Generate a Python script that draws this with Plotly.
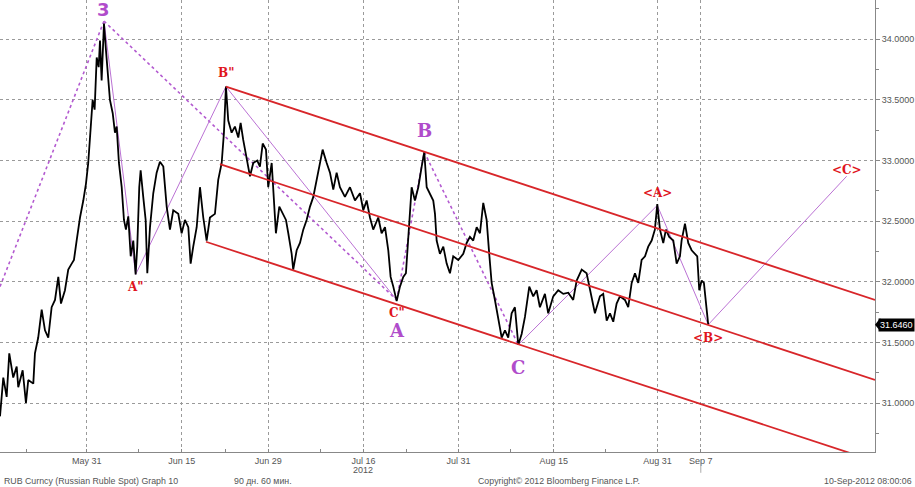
import plotly.graph_objects as go

# ---------------- data ----------------
# x = trading days from May 31 2012 (weekends removed), y = USD/RUB
path_day = [-10.02, -9.64, -9.25, -8.95, -8.49, -8.09, -7.91, -7.40, -7.02, -6.75, -6.17, -5.98, -5.60, -5.20,
            -4.82, -4.44, -4.05, -3.66, -3.28, -2.97, -2.51, -2.13, -1.73, -1.47, -1.16, -0.77, -0.39, -0.08,
            0.18, 0.46, 0.69, 0.92, 1.16, 1.39, 1.54, 1.73, 2.00, 2.23, 2.38, 2.69, 3.01, 3.27, 3.47, 3.73,
            4.05, 4.31, 4.54, 4.81, 5.09, 5.39, 5.66, 5.85, 6.08, 6.24, 6.54, 6.82, 7.01, 7.32, 7.70, 8.09,
            8.47, 8.86, 9.25, 9.63, 10.01, 10.59, 10.98, 11.36, 11.75, 12.02, 12.32, 12.72, 13.10, 13.48,
            13.87, 14.25, 14.83, 15.21, 15.61, 15.87, 16.10, 16.37, 16.76, 17.14, 17.53, 17.80, 18.10, 18.50,
            18.88, 19.26, 19.72, 20.03, 20.35, 20.73, 20.99, 21.39, 21.65, 21.88, 22.27, 22.66, 23.04, 23.31,
            23.70, 23.88, 24.28, 24.66, 25.04, 25.43, 25.82, 26.20, 26.59, 26.97, 27.28, 27.75, 28.13, 28.51,
            28.90, 29.28, 29.86, 30.44, 31.02, 31.60, 31.98, 32.37, 32.75, 33.13, 33.71, 34.10, 34.49, 34.87,
            35.14, 35.45, 35.84, 36.22, 36.60, 36.91, 37.18, 37.57, 37.95, 38.34, 38.73, 39.03, 39.31, 39.69,
            40.07, 40.27, 40.46, 40.84, 41.23, 41.62, 42.00, 42.38, 42.96, 43.54, 43.93, 44.31, 44.69, 45.09,
            45.47, 45.85, 46.24, 46.54, 46.82, 47.20, 47.58, 47.98, 48.36, 48.74, 49.13, 49.51, 49.90, 50.29,
            50.67, 51.17, 51.63, 52.02, 52.40, 52.98, 53.36, 53.94, 54.52, 55.10, 55.68, 56.25, 56.65, 57.23,
            57.80, 58.18, 58.76, 59.34, 59.72, 60.12, 60.50, 60.88, 61.27, 61.65, 62.23, 62.61, 63.01, 63.39,
            63.77, 64.16, 64.55, 64.92, 65.32, 65.69, 65.97, 66.28, 66.66, 66.97, 67.35, 67.82, 68.21, 68.59,
            68.78, 69.17, 69.55, 69.94, 70.32, 70.59, 70.82, 71.10, 71.36, 71.60, 71.86]
path_price = [30.89, 31.21, 31.05, 31.41, 31.21, 31.30, 31.13, 31.27, 31.00, 31.19, 31.16, 31.41, 31.54, 31.77,
              31.60, 31.54, 31.79, 31.85, 32.04, 31.82, 31.93, 32.10, 32.15, 32.18, 32.34, 32.53, 32.67, 32.81,
              32.98, 33.23, 33.50, 33.42, 33.85, 33.77, 33.99, 33.66, 34.13, 33.91, 33.77, 33.50, 33.39, 33.23,
              33.28, 32.98, 32.78, 32.51, 32.43, 32.54, 32.21, 32.34, 32.06, 32.29, 32.78, 32.92, 32.70, 32.51,
              32.07, 32.45, 32.73, 32.90, 32.99, 32.95, 32.62, 32.43, 32.59, 32.56, 32.40, 32.51, 32.45, 32.15,
              32.29, 32.45, 32.78, 32.53, 32.34, 32.53, 32.56, 32.84, 32.98, 33.23, 33.61, 33.33, 33.23, 33.28,
              33.19, 33.31, 33.17, 33.03, 32.87, 32.98, 33.00, 32.95, 33.14, 33.09, 32.78, 32.98, 32.67, 32.40,
              32.62, 32.56, 32.51, 32.40, 32.23, 32.10, 32.26, 32.32, 32.43, 32.51, 32.62, 32.70, 32.84, 33.00,
              33.09, 32.98, 32.90, 32.76, 32.90, 32.78, 32.70, 32.78, 32.67, 32.73, 32.59, 32.67, 32.53, 32.43,
              32.53, 32.40, 32.45, 32.26, 32.04, 31.96, 31.84, 31.96, 32.04, 32.07, 32.40, 32.78, 32.67, 32.78,
              32.95, 33.07, 32.78, 32.73, 32.67, 32.56, 32.34, 32.23, 32.29, 32.15, 32.07, 32.21, 32.18, 32.23,
              32.32, 32.37, 32.34, 32.45, 32.40, 32.65, 32.51, 32.23, 31.99, 31.85, 31.68, 31.54, 31.60, 31.54,
              31.74, 31.79, 31.48, 31.57, 31.71, 31.96, 31.88, 31.93, 31.79, 31.90, 31.74, 31.88, 31.93, 31.90,
              31.91, 31.85, 32.01, 32.10, 32.07, 31.93, 31.74, 31.88, 31.90, 31.68, 31.74, 31.67, 31.82, 31.88,
              31.85, 31.79, 31.99, 32.07, 31.99, 32.18, 32.21, 32.29, 32.34, 32.43, 32.64, 32.43, 32.32, 32.43,
              32.37, 32.34, 32.15, 32.21, 32.34, 32.48, 32.32, 32.26, 32.23, 32.21, 31.93, 32.01, 31.99, 31.79,
              31.646]
last_price = 31.646

# wave pivots (trading day, price)
piv_start = (-10.02, 31.96)
piv_3 = (2.00, 34.15)
piv_A2 = (5.66, 32.06)
piv_B2 = (16.10, 33.61)
piv_A = (35.84, 31.85)
piv_B = (39.03, 33.07)
piv_C = (49.90, 31.48)
piv_nA = (65.97, 32.63)
piv_nB = (71.86, 31.646)
piv_nC = (87.86, 32.87)

# channel lines (start, end)
chan_upper = [(16.10, 33.61), (91.14, 31.85)]
chan_mid = [(15.41, 32.97), (91.14, 31.19)]
chan_lower = [(13.79, 32.33), (91.14, 30.52)]

tick_days = [0, 11, 21, 32, 43, 54, 66, 71]
tick_labels = ["May 31", "Jun 15", "Jun 29", "Jul 16", "Jul 31", "Aug 15", "Aug 31", "Sep 7"]
minor_days = [-7, 6, 16, 27, 37, 49, 60]
y_ticks = [31.0, 31.5, 32.0, 32.5, 33.0, 33.5, 34.0]

X_RANGE = [-10.02, 91.14]
Y_RANGE = [30.596, 34.324]

PURPLE = "#b04ccb"
PURPLE_DOT = "#b35ad0"
PURPLE_LINE = "#bb72d4"
RED = "#d8262a"
RED_TXT = "#e0141c"

fig = go.Figure()

def seg(points, color, width, dash="solid"):
    fig.add_trace(go.Scatter(x=[p[0] for p in points], y=[p[1] for p in points], mode="lines",
                             line=dict(color=color, width=width, dash=dash),
                             hoverinfo="skip", showlegend=False))

# dotted wave lines
seg([piv_start, piv_3], PURPLE_DOT, 1.6, "dot")
seg([piv_3, piv_A], PURPLE_DOT, 1.6, "dot")
seg([piv_A, piv_B], PURPLE_DOT, 1.6, "dot")
seg([piv_B, piv_C], PURPLE_DOT, 1.6, "dot")
# thin solid wave lines
seg([piv_3, piv_A2, piv_B2, piv_A], PURPLE_LINE, 1)
seg([piv_C, piv_nA, piv_nB, piv_nC], PURPLE_LINE, 1)

# price
fig.add_trace(go.Scatter(x=path_day, y=path_price, mode="lines",
                         line=dict(color="black", width=1.8), hoverinfo="skip", showlegend=False))

# channels
for ch in (chan_upper, chan_mid, chan_lower):
    seg(ch, RED, 1.8)

# labels
def lab(p, text, color, size, yshift, family):
    fig.add_annotation(x=p[0], y=p[1], text=text, showarrow=False, yshift=yshift,
                       font=dict(color=color, size=size, family=family))

SERIF_B = "DejaVu Serif"
lab(piv_3, "<b>3</b>", PURPLE, 18, 12, "DejaVu Sans")
lab(piv_A, "<b>A</b>", PURPLE, 18, -31, SERIF_B)
lab(piv_B, "<b>B</b>", PURPLE, 18, 22, SERIF_B)
lab(piv_C, "<b>C</b>", PURPLE, 18, -23, SERIF_B)
lab(piv_B2, "<b>B\"</b>", RED_TXT, 12, 14, SERIF_B)
lab(piv_A2, "<b>A\"</b>", RED_TXT, 12, -12, SERIF_B)
lab(piv_A, "<b>C\"</b>", RED_TXT, 12, -13, SERIF_B)
lab(piv_nA, "<b>&lt;A&gt;</b>", RED_TXT, 12, 12, SERIF_B)
lab(piv_nB, "<b>&lt;B&gt;</b>", RED_TXT, 12, -13, SERIF_B)
lab(piv_nC, "<b>&lt;C&gt;</b>", RED_TXT, 12, 6, SERIF_B)

# last price tag
fig.add_annotation(xref="paper", x=1, xanchor="left", xshift=3, y=last_price, yref="y",
                   text=f"{last_price:.4f}", showarrow=False, bgcolor="black", borderpad=1,
                   font=dict(color="white", size=9, family="Liberation Sans"))
fig.add_shape(type="path", xref="paper", yref="y",
              path=f"M 1.0,{last_price} L 1.006,{last_price + 0.055} L 1.006,{last_price - 0.055} Z",
              fillcolor="black", line=dict(width=0))

# bottom texts
GREY = "#555555"
fig.add_annotation(xref="x", x=32, yref="paper", y=-0.0398, yanchor="middle", text="2012", showarrow=False,
                   font=dict(size=9, color=GREY, family="Liberation Sans"))
for txt, xp, anchor in [("RUB Curncy (Russian Ruble Spot) Graph 10", 0.002, "left"),
                        ("90 дн. 60 мин.", 0.265, "left"),
                        ("Copyright© 2012 Bloomberg Finance L.P.", 0.544, "left"),
                        ("10-Sep-2012 08:00:06", 1.044, "right")]:
    fig.add_annotation(xref="paper", x=xp, xanchor=anchor, yref="paper", y=-0.064, yanchor="middle",
                       text=txt, showarrow=False,
                       font=dict(size=8.8, color=GREY, family="Liberation Sans"))
fig.add_shape(type="line", xref="x", yref="paper", x0=71, x1=71, y0=-0.018, y1=-0.046,
              line=dict(color="#aaaaaa", width=1))

fig.update_layout(
    width=915, height=487, margin=dict(l=0, r=40, t=0, b=35),
    paper_bgcolor="white", plot_bgcolor="white", showlegend=False,
    xaxis=dict(range=X_RANGE, tickmode="array", tickvals=tick_days, ticktext=tick_labels,
               showgrid=True, gridcolor="#9a9a9a", griddash="dot", gridwidth=1,
               showline=True, linecolor="#888888", linewidth=1, ticks="inside", ticklen=3,
               tickcolor="#888888", zeroline=False,
               tickfont=dict(size=9, color=GREY, family="Liberation Sans"),
               minor=dict(tickvals=minor_days, ticks="inside", ticklen=3, tickcolor="#888888", showgrid=False)),
    yaxis=dict(range=Y_RANGE, side="right", tickmode="array", tickvals=y_ticks,
               tickformat=".4f", showgrid=True, gridcolor="#9a9a9a", griddash="dot", gridwidth=1,
               showline=True, linecolor="#888888", linewidth=1, ticks="outside", ticklen=4,
               tickcolor="#888888", zeroline=False,
               tickfont=dict(size=9, color=GREY, family="Liberation Sans"),
               minor=dict(dtick=0.25, ticks="outside", ticklen=3, tickcolor="#888888", showgrid=False)),
)

fig.write_html("out.html", config={"displayModeBar": False},
               post_script="document.body.style.margin='0';document.body.style.overflow='hidden';")
